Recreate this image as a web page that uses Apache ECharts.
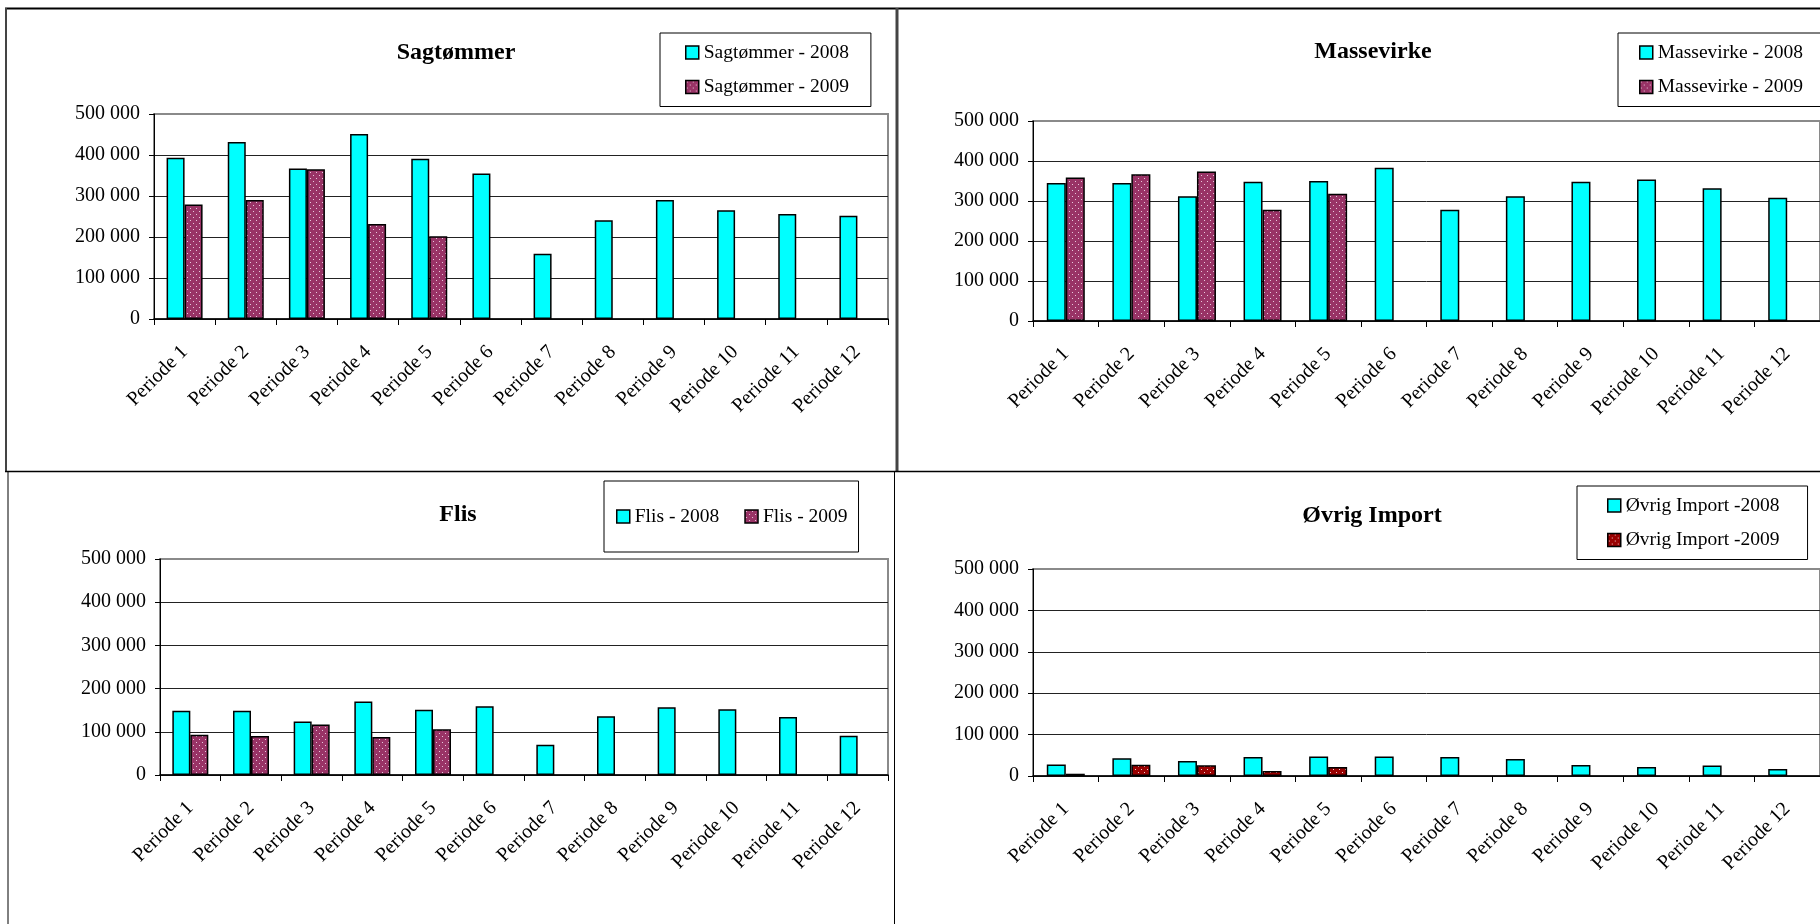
<!DOCTYPE html>
<html>
<head>
<meta charset="utf-8">
<script src="https://cdn.jsdelivr.net/npm/echarts@6/dist/echarts.min.js"></script>
<style>
html,body{margin:0;padding:0;background:#fff;}
#chart{width:1820px;height:924px;}
</style>
</head>
<body>
<div id="chart"></div>
<script>
// ---- data ----
const categories = ['Periode 1','Periode 2','Periode 3','Periode 4','Periode 5','Periode 6','Periode 7','Periode 8','Periode 9','Periode 10','Periode 11','Periode 12'];
const yTicks = [0, 100000, 200000, 300000, 400000, 500000];

const sagTitle = 'Sagtømmer';
const sagNames = ['Sagtømmer - 2008', 'Sagtømmer - 2009'];
const sag2008 = [393000, 432000, 367000, 451000, 391000, 355000, 159000, 241000, 290000, 265000, 256000, 252000];
const sag2009 = [279000, 290000, 365000, 232000, 202000];

const masTitle = 'Massevirke';
const masNames = ['Massevirke - 2008', 'Massevirke - 2009'];
const mas2008 = [345000, 345000, 312000, 348000, 350000, 383000, 278000, 312000, 348000, 354000, 332000, 308000];
const mas2009 = [359000, 367000, 374000, 278000, 318000];

const flisTitle = 'Flis';
const flisNames = ['Flis - 2008', 'Flis - 2009'];
const flis2008 = [149000, 149000, 124000, 170000, 151000, 159000, 70000, 136000, 157000, 152000, 134000, 91000];
const flis2009 = [93000, 90000, 117000, 88000, 106000];

const ovrTitle = 'Øvrig Import';
const ovrNames = ['Øvrig Import -2008', 'Øvrig Import -2009'];
const ovr2008 = [28000, 43000, 36000, 46000, 47000, 47000, 46000, 41000, 26500, 21500, 25500, 17000];
const ovr2009 = [5500, 27000, 26000, 12000, 22000];

// ---- styles ----
const FONT = "'Liberation Serif', 'Times New Roman', serif";
const CYAN = '#00FFFF';

function dotPattern(bg, dot, size, pts, d) {
  const c = document.createElement('canvas');
  c.width = size; c.height = size;
  const ctx = c.getContext('2d');
  ctx.fillStyle = bg; ctx.fillRect(0, 0, size, size);
  ctx.fillStyle = dot;
  pts.forEach(p => ctx.fillRect(p[0], p[1], d, d));
  return c;
}
const purplePat = { image: dotPattern('#993366', '#e8c8dc', 6, [[1,1],[4,4]], 1), repeat: 'repeat' };
const redPat = { image: dotPattern('#990000', '#f0d0d0', 6, [[1,1],[4,4]], 1), repeat: 'repeat' };

function fmt(v) {
  return String(v).replace(/\B(?=(\d{3})+(?!\d))/g, ' ');
}

const panels = [
  { title: sagTitle, names: sagNames, d1: sag2008, d2: sag2009, pat: purplePat,
    grid: { left: 154, top: 114, width: 734, height: 205 }, bw: 18,
    tpos: { left: 451, top: 36 },
    legend: { left: 660, top: 33, orient: 'vertical', padding: [9.5, 22, 9.5, 25], itemGap: 14.5 } },
  { title: masTitle, names: masNames, d1: mas2008, d2: mas2009, pat: purplePat,
    grid: { left: 1033, top: 121, width: 798, height: 200 }, bw: 19,
    tpos: { left: 1368, top: 35 },
    legend: { left: 1618, top: 33, orient: 'vertical', padding: [9.5, 30, 9.5, 21], itemGap: 14.5 } },
  { title: flisTitle, names: flisNames, d1: flis2008, d2: flis2009, pat: purplePat,
    grid: { left: 160, top: 559, width: 728, height: 216 }, bw: 18,
    tpos: { left: 453, top: 498 },
    legend: { left: 604, top: 481, orient: 'horizontal', padding: [25.5, 11, 25.5, 12], itemGap: 25 } },
  { title: ovrTitle, names: ovrNames, d1: ovr2008, d2: ovr2009, pat: redPat,
    grid: { left: 1033, top: 569, width: 799, height: 207 }, bw: 19,
    tpos: { left: 1367, top: 499 },
    legend: { left: 1577, top: 486, orient: 'vertical', padding: [9.5, 28, 9.5, 30], itemGap: 14.5 } }
];

const option = {
  animation: false,
  backgroundColor: '#fff',
  textStyle: { fontFamily: FONT, color: '#000' },
  title: [], legend: [], grid: [], xAxis: [], yAxis: [], series: [],
  graphic: []
};

panels.forEach((p, i) => {
  option.title.push({
    text: p.title, left: p.tpos.left, top: p.tpos.top, textAlign: 'center',
    textStyle: { fontFamily: FONT, fontSize: 24, fontWeight: 'bold', color: '#000' }
  });
  option.legend.push(Object.assign({
    data: p.names,
    icon: 'rect', itemWidth: 13, itemHeight: 13,
    borderColor: '#000', borderWidth: 1, backgroundColor: '#fff',
    textStyle: { fontFamily: FONT, fontSize: 19.5, color: '#000' },
    itemStyle: { borderColor: '#000', borderWidth: 1.5 },
    selectedMode: false
  }, p.legend));
  option.grid.push(Object.assign({ show: true, borderColor: '#8a8a8a', borderWidth: 2, backgroundColor: 'transparent', containLabel: false }, p.grid));
  option.xAxis.push({
    type: 'category', gridIndex: i, data: categories,
    axisLine: { lineStyle: { color: '#000', width: 1.5 } },
    axisTick: { show: true, alignWithLabel: false, length: 6, lineStyle: { color: '#000' } },
    axisLabel: { rotate: 45, margin: 30, fontFamily: FONT, fontSize: 20, color: '#000', interval: 0 }
  });
  option.yAxis.push({
    type: 'value', gridIndex: i, min: yTicks[0], max: yTicks[yTicks.length - 1], interval: yTicks[1] - yTicks[0],
    axisLine: { show: true, lineStyle: { color: '#000', width: 1 } },
    axisTick: { show: true, length: 5, lineStyle: { color: '#000' } },
    axisLabel: { margin: 14, fontFamily: FONT, fontSize: 20, color: '#000', formatter: fmt },
    splitLine: { show: true, showMaxLine: false, lineStyle: { color: '#222', width: 1 } }
  });
  option.series.push({
    name: p.names[0], type: 'bar', xAxisIndex: i, yAxisIndex: i, data: p.d1,
    barWidth: p.bw, barGap: '0%',
    itemStyle: { color: CYAN, borderColor: '#000', borderWidth: 1.5 }
  });
  option.series.push({
    name: p.names[1], type: 'bar', xAxisIndex: i, yAxisIndex: i, data: p.d2,
    barWidth: p.bw, barGap: '0%',
    itemStyle: { color: p.pat, borderColor: '#000', borderWidth: 1.5 }
  });
});

// panel frames
function ln(x1, y1, x2, y2, color, w) {
  return { type: 'line', silent: true, z: 100, shape: { x1, y1, x2, y2 }, style: { stroke: color, lineWidth: w } };
}
option.graphic = [
  ln(5, 8.5, 1820, 8.5, '#000', 2),
  ln(6, 8, 6, 471, '#444', 2),
  ln(897, 8, 897, 471, '#444', 3),
  ln(5, 471.5, 1820, 471.5, '#000', 1.5),
  ln(8, 471, 8, 924, '#000', 1),
  ln(894.5, 471, 894.5, 924, '#000', 1)
];

const chart = echarts.init(document.getElementById('chart'), null, { renderer: 'canvas' });
chart.setOption(option);
</script>
</body>
</html>
